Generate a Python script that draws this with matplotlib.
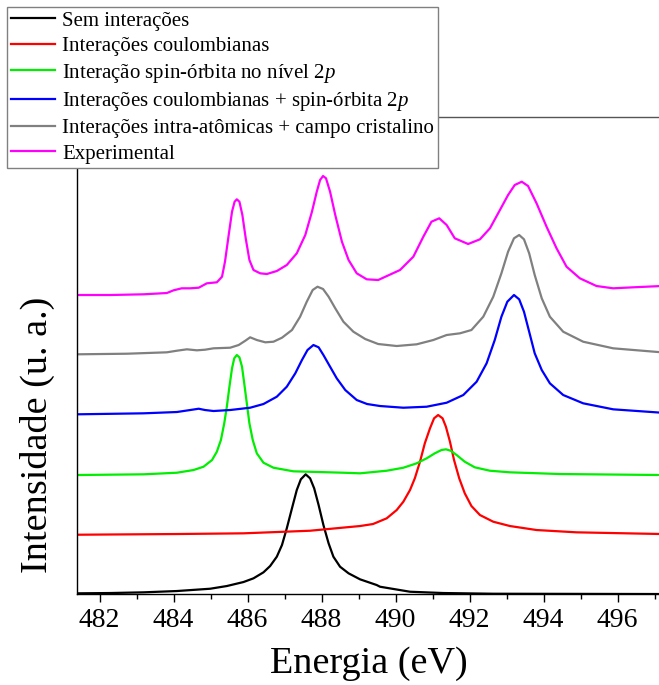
import matplotlib
matplotlib.use("Agg")
import matplotlib.pyplot as plt

# spectra (energy in eV, intensity in arbitrary units, curves already offset)

x_sem = [481.39, 482.29, 483.19, 484.09, 484.99, 485.44, 485.89, 486.16, 486.43, 486.61,
         486.79, 486.93, 487.06, 487.20, 487.33, 487.44, 487.57, 487.69, 487.80, 487.92,
         488.05, 488.19, 488.32, 488.50, 488.73, 489.04, 489.49, 489.58, 490.39, 491.29,
         492.64, 497.19]
y_sem = [0.007, 0.01, 0.017, 0.03, 0.053, 0.08, 0.12, 0.157, 0.217, 0.28,
         0.373, 0.49, 0.657, 0.857, 1.04, 1.147, 1.197, 1.157, 1.057, 0.89,
         0.69, 0.507, 0.373, 0.273, 0.207, 0.147, 0.09, 0.073, 0.023, 0.01,
         0.003, 0.0]

x_coul = [481.39, 484.09, 485.89, 487.69, 489.04, 489.39, 489.76, 490.03, 490.21, 490.39,
          490.52, 490.66, 490.79, 490.93, 491.04, 491.15, 491.27, 491.36, 491.47, 491.58,
          491.72, 491.87, 492.05, 492.28, 492.64, 493.09, 493.81, 494.89, 497.19]
y_coul = [0.593, 0.60, 0.607, 0.633, 0.68, 0.70, 0.757, 0.84, 0.923, 1.04,
          1.157, 1.323, 1.507, 1.657, 1.757, 1.79, 1.757, 1.673, 1.523, 1.34,
          1.157, 1.007, 0.88, 0.79, 0.723, 0.68, 0.64, 0.617, 0.60]

x_so = [481.39, 483.19, 484.09, 484.54, 484.81, 485.04, 485.17, 485.28, 485.37, 485.44,
        485.51, 485.58, 485.64, 485.71, 485.78, 485.85, 485.91, 485.98, 486.05, 486.14,
        486.25, 486.43, 486.70, 487.24, 488.59, 489.04, 489.76, 490.21, 490.57, 490.84,
        491.06, 491.24, 491.36, 491.49, 491.65, 491.87, 492.14, 492.55, 493.09, 494.44,
        497.19]
y_so = [1.19, 1.197, 1.213, 1.24, 1.273, 1.34, 1.423, 1.54, 1.707, 1.873,
        2.073, 2.257, 2.357, 2.39, 2.367, 2.273, 2.107, 1.907, 1.707, 1.54,
        1.407, 1.313, 1.263, 1.227, 1.213, 1.207, 1.233, 1.263, 1.307, 1.357,
        1.407, 1.44, 1.447, 1.433, 1.39, 1.323, 1.267, 1.233, 1.217, 1.20,
        1.19]

x_coul_so = [481.39, 483.19, 484.09, 484.45, 484.68, 484.85, 485.08, 485.53, 486.07, 486.43,
             486.79, 487.06, 487.29, 487.47, 487.62, 487.78, 487.92, 488.05, 488.23, 488.41,
             488.64, 488.95, 489.23, 489.58, 490.21, 490.84, 491.38, 491.83, 492.19, 492.46,
             492.68, 492.86, 493.02, 493.20, 493.34, 493.47, 493.61, 493.76, 493.95, 494.17,
             494.53, 495.07, 495.88, 497.19]
y_coul_so = [1.797, 1.807, 1.82, 1.84, 1.853, 1.84, 1.83, 1.84, 1.863, 1.90,
             1.973, 2.073, 2.207, 2.34, 2.44, 2.49, 2.467, 2.39, 2.273, 2.157,
             2.04, 1.94, 1.90, 1.88, 1.863, 1.873, 1.913, 1.99, 2.123, 2.307,
             2.54, 2.773, 2.923, 2.99, 2.947, 2.823, 2.623, 2.407, 2.24, 2.107,
             1.99, 1.907, 1.847, 1.813]

x_cc = [481.39, 482.74, 483.82, 484.09, 484.36, 484.63, 484.85, 485.08, 485.53, 485.76,
        485.94, 486.07, 486.25, 486.48, 486.70, 486.93, 487.20, 487.42, 487.60, 487.76,
        487.89, 488.04, 488.19, 488.37, 488.59, 488.86, 489.18, 489.53, 490.03, 490.57,
        491.02, 491.38, 491.74, 492.05, 492.37, 492.64, 492.86, 493.04, 493.20, 493.34,
        493.47, 493.61, 493.76, 493.95, 494.17, 494.53, 495.07, 495.88, 497.19]
y_cc = [2.397, 2.403, 2.417, 2.433, 2.447, 2.437, 2.443, 2.457, 2.463, 2.49,
        2.533, 2.567, 2.54, 2.517, 2.523, 2.563, 2.64, 2.773, 2.923, 3.04,
        3.073, 3.05, 2.973, 2.857, 2.723, 2.623, 2.55, 2.50, 2.48, 2.497,
        2.54, 2.59, 2.607, 2.64, 2.773, 2.973, 3.207, 3.423, 3.557, 3.59,
        3.547, 3.407, 3.19, 2.957, 2.773, 2.623, 2.523, 2.457, 2.417]

x_exp = [481.39, 482.29, 483.19, 483.82, 484.00, 484.22, 484.45, 484.68, 484.90, 485.17,
         485.31, 485.39, 485.49, 485.58, 485.65, 485.71, 485.78, 485.86, 485.95, 486.05,
         486.16, 486.34, 486.52, 486.79, 487.06, 487.33, 487.56, 487.74, 487.87, 487.96,
         488.04, 488.12, 488.23, 488.37, 488.55, 488.73, 488.95, 489.22, 489.53, 490.12,
         490.48, 490.75, 490.97, 491.18, 491.38, 491.60, 491.96, 492.28, 492.55, 492.82,
         493.04, 493.22, 493.41, 493.58, 493.81, 494.08, 494.35, 494.62, 494.98, 495.43,
         495.88, 496.42, 497.19]
y_exp = [2.99, 2.99, 2.997, 3.01, 3.037, 3.057, 3.057, 3.063, 3.107, 3.117,
         3.173, 3.323, 3.59, 3.823, 3.923, 3.947, 3.923, 3.79, 3.557, 3.34,
         3.24, 3.207, 3.20, 3.23, 3.29, 3.407, 3.59, 3.823, 4.023, 4.14,
         4.18, 4.157, 4.023, 3.79, 3.523, 3.34, 3.207, 3.147, 3.14, 3.24,
         3.373, 3.573, 3.723, 3.757, 3.69, 3.557, 3.50, 3.547, 3.657, 3.84,
         3.99, 4.09, 4.123, 4.08, 3.907, 3.673, 3.457, 3.273, 3.157, 3.08,
         3.057, 3.067, 3.08]

labels = ["Sem interações",
          "Interações coulombianas",
          "Interação spin-órbita no nível $\\it{2p}$",
          "Interações coulombianas + spin-órbita $\\it{2p}$",
          "Interações intra-atômicas + campo cristalino",
          "Experimental"]

x_ticks = [482, 484, 486, 488, 490, 492, 494, 496]

plt.rcParams["font.family"] = ["Liberation Serif", "DejaVu Serif"]
plt.rcParams["mathtext.fontset"] = "custom"
plt.rcParams["mathtext.rm"] = "Liberation Serif"
plt.rcParams["mathtext.it"] = "Liberation Serif:italic"

fig = plt.figure(figsize=(6.59, 6.85), dpi=100)
ax = fig.add_axes([0.1168, 0.1328, 0.8872, 0.6964])

lw = 1.6
ax.plot(x_sem, y_sem, color="black", lw=lw, label=labels[0])
ax.plot(x_coul, y_coul, color="red", lw=lw, label=labels[1])
ax.plot(x_so, y_so, color="#00ee00", lw=lw, label=labels[2])
ax.plot(x_coul_so, y_coul_so, color="blue", lw=lw, label=labels[3])
ax.plot(x_cc, y_cc, color="gray", lw=lw, label=labels[4])
ax.plot(x_exp, y_exp, color="magenta", lw=lw, label=labels[5])

ax.set_xlim(481.39, 497.19)
ax.set_ylim(0, 4.77)

ax.set_xticks(x_ticks)
ax.set_xticks([483, 485, 487, 489, 491, 493, 495, 497], minor=True)
ax.set_yticks([])
ax.tick_params(axis="x", which="major", direction="out", length=6, width=1, labelsize=20, pad=4)
ax.tick_params(axis="x", which="minor", direction="out", length=3.5, width=1)

ax.spines["right"].set_visible(False)
ax.spines["top"].set_color("#555555")
for s in ["left", "bottom", "top"]:
    ax.spines[s].set_linewidth(1.0)

ax.set_xlabel("Energia (eV)", fontsize=27.5, labelpad=10)
ax.set_ylabel("Intensidade (u. a.)", fontsize=27.5)
ax.yaxis.set_label_coords(-0.038, 0.333)

fig.legend(loc="upper left", bbox_to_anchor=(7 / 659, 1 - 7 / 685), fontsize=15,
           frameon=True, fancybox=False, framealpha=1, edgecolor="gray",
           handlelength=2.1, handletextpad=0.35, labelspacing=0.27,
           borderpad=0.2, borderaxespad=0)

plt.savefig("out.png", dpi=100)
